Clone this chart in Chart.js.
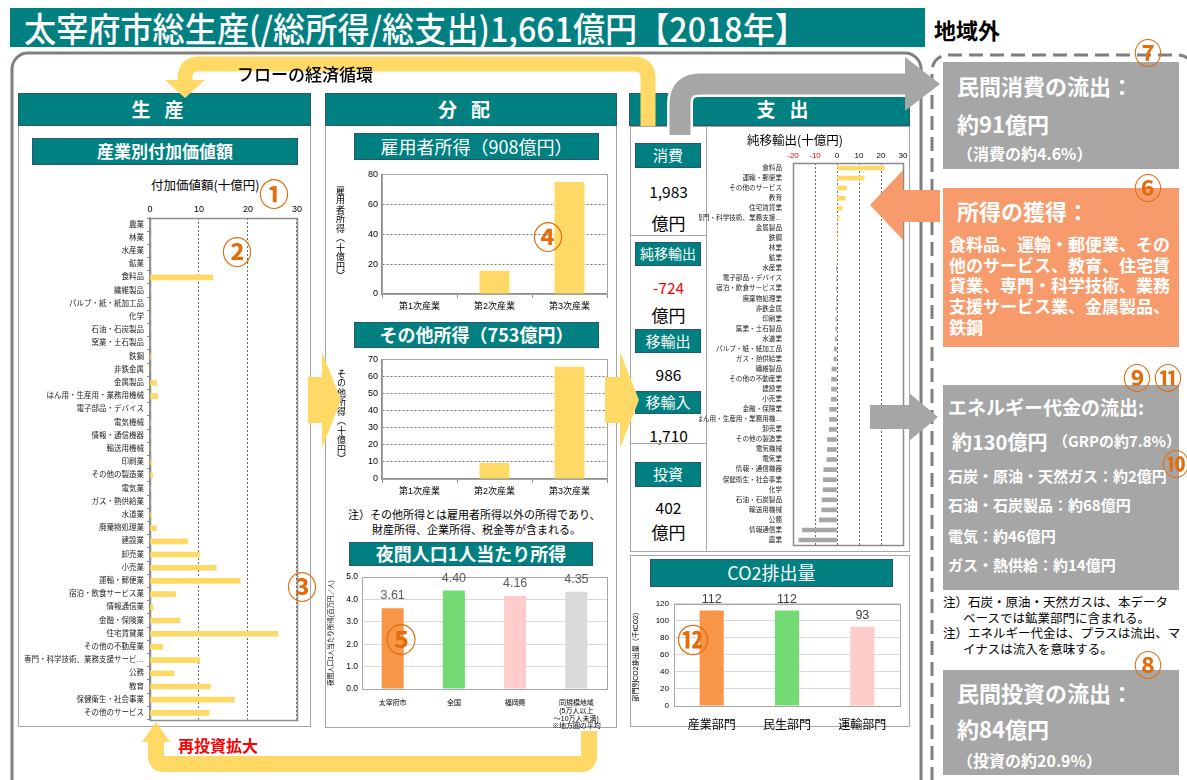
<!DOCTYPE html>
<html><head><meta charset="utf-8">
<script src="https://cdn.jsdelivr.net/npm/chart.js@4"></script>
<style>
body{margin:0;background:#fff;}
#root{position:relative;width:1187px;height:780px;overflow:hidden;background:#fff;font-family:'Noto Sans CJK JP','Noto Sans',sans-serif;}
.a{position:absolute;white-space:nowrap;}
.teal{background:#008080;color:#fff;border:1.5px solid #2A5470;box-sizing:border-box;text-align:center;}
.panel{border:1px solid #A6A6A6;box-sizing:border-box;background:#fff;}
.num{color:#E46C0A;transform:translate(-50%,-50%);line-height:1;z-index:6;font-weight:700;}
.w{color:#fff;font-weight:700;}
canvas{position:absolute;z-index:3;}
.vt{writing-mode:vertical-rl;text-orientation:upright;font-size:9px;color:#000;letter-spacing:0.5px;z-index:4;}
</style></head>
<body><div id="root">

<!-- background frames -->
<svg class="a" style="left:0;top:0;z-index:0" width="1187" height="780">
  <rect x="12" y="53" width="909" height="760" rx="16" ry="16" fill="none" stroke="#7F7F7F" stroke-width="3"/>
  <rect x="932" y="55" width="262" height="760" rx="16" ry="16" fill="none" stroke="#7F7F7F" stroke-width="3" stroke-dasharray="14 7"/>
</svg>

<!-- title -->
<div class="a" style="left:10px;top:8px;width:915px;height:39px;background:#008080;z-index:1"></div>
<div class="a" id="title" style="left:24px;top:8px;height:39px;line-height:39px;font-size:34px;color:#fff;font-weight:500;transform-origin:left center;z-index:2">太宰府市総生産(/総所得/総支出)1,661億円【2018年】</div>
<div class="a" style="left:934px;top:14px;font-size:22px;font-weight:700;line-height:30px;color:#000">地域外</div>
<div class="a" style="left:237px;top:64px;font-size:17px;font-weight:500;line-height:20px;color:#000;z-index:7">フローの経済循環</div>

<!-- panels -->
<div class="a panel" style="left:18px;top:93px;width:293px;height:634px;z-index:1"></div>
<div class="a teal" style="left:18px;top:93px;width:293px;height:33px;line-height:30px;font-size:19px;font-weight:700;letter-spacing:14px;z-index:2">生産</div>
<div class="a panel" style="left:325px;top:93px;width:292px;height:635px;z-index:1"></div>
<div class="a teal" style="left:325px;top:93px;width:292px;height:33px;line-height:30px;font-size:19px;font-weight:700;letter-spacing:14px;z-index:2">分配</div>
<div class="a teal" style="left:629px;top:93px;width:281px;height:33px;line-height:30px;font-size:19px;font-weight:700;letter-spacing:14px;padding-left:40px;z-index:2">支出</div>
<div class="a panel" style="left:630px;top:126px;width:77px;height:426px;z-index:1"></div>
<div class="a panel" style="left:706px;top:126px;width:204px;height:426px;z-index:1"></div>
<div class="a panel" style="left:630px;top:555px;width:280px;height:172px;z-index:1"></div>

<!-- subtitle boxes -->
<div class="a teal" style="left:32px;top:138px;width:266px;height:27px;line-height:24px;font-size:17px;font-weight:700;z-index:2">産業別付加価値額</div>
<div class="a teal" style="left:354px;top:133px;width:245px;height:27px;line-height:24px;font-size:18px;z-index:2">雇用者所得（908億円）</div>
<div class="a teal" style="left:354px;top:322px;width:245px;height:26px;line-height:23px;font-size:18px;font-weight:700;z-index:2">その他所得（753億円）</div>
<div class="a teal" style="left:349px;top:542px;width:244px;height:24px;line-height:21px;font-size:18px;font-weight:700;z-index:2">夜間人口1人当たり所得</div>
<div class="a teal" style="left:650px;top:559px;width:243px;height:28px;line-height:25px;font-size:18px;z-index:2">CO2排出量</div>

<!-- chart titles / notes -->
<div class="a" style="left:151px;top:177px;font-size:12.5px;line-height:16px;color:#000;z-index:4">付加価値額(十億円)</div>
<div class="a" style="left:747px;top:132px;font-size:12.5px;line-height:16px;color:#000;z-index:4">純移輸出(十億円)</div>
<div class="a vt" style="left:334px;top:186px;">雇用者所得（十億円）</div>
<div class="a vt" style="left:335px;top:369px;">その他所得（十億円）</div>
<div class="a" style="left:348px;top:507px;font-size:11px;line-height:15px;color:#000;z-index:4">注）その他所得とは雇用者所得以外の所得であり、<br><span style="padding-left:24px">財産所得、企業所得、税金等が含まれる。</span></div>

<!-- expenditure column -->
<div class="a teal" style="left:635px;top:143px;width:66px;height:25px;line-height:22px;font-size:15px;z-index:2">消費</div>
<div class="a" style="left:630px;top:181px;width:77px;text-align:center;font-size:15.5px;line-height:20px;z-index:2">1,983</div>
<div class="a" style="left:630px;top:212px;width:77px;text-align:center;font-size:17px;line-height:22px;z-index:2">億円</div>
<div class="a" style="left:630px;top:235px;width:77px;border-top:1px solid #A6A6A6;z-index:2"></div>
<div class="a teal" style="left:635px;top:242px;width:66px;height:24px;line-height:21px;font-size:14px;z-index:2">純移輸出</div>
<div class="a" style="left:630px;top:277px;width:77px;text-align:center;font-size:15.5px;line-height:20px;color:#FF0000;z-index:2">-724</div>
<div class="a" style="left:630px;top:304px;width:77px;text-align:center;font-size:17px;line-height:22px;z-index:2">億円</div>
<div class="a teal" style="left:635px;top:329px;width:66px;height:24px;line-height:21px;font-size:15px;z-index:2">移輸出</div>
<div class="a" style="left:630px;top:364px;width:77px;text-align:center;font-size:15.5px;line-height:20px;z-index:2">986</div>
<div class="a teal" style="left:635px;top:391px;width:66px;height:23px;line-height:20px;font-size:15px;z-index:2">移輸入</div>
<div class="a" style="left:630px;top:425px;width:77px;text-align:center;font-size:15.5px;line-height:20px;z-index:2">1,710</div>
<div class="a" style="left:630px;top:443px;width:77px;border-top:1px solid #A6A6A6;z-index:2"></div>
<div class="a teal" style="left:635px;top:462px;width:66px;height:25px;line-height:22px;font-size:15px;z-index:2">投資</div>
<div class="a" style="left:630px;top:497px;width:77px;text-align:center;font-size:15.5px;line-height:20px;z-index:2">402</div>
<div class="a" style="left:630px;top:521px;width:77px;text-align:center;font-size:17px;line-height:22px;z-index:2">億円</div>

<!-- right side boxes -->
<div class="a" style="left:943px;top:62px;width:236px;height:107px;background:#A6A6A6;z-index:1"></div>
<div class="a w" style="left:957px;top:71px;font-size:22px;line-height:28px;z-index:2">民間消費の流出：</div>
<div class="a w" style="left:957px;top:109px;font-size:22px;line-height:28px;z-index:2">約91億円</div>
<div class="a w" style="left:957px;top:142px;font-size:16px;line-height:22px;z-index:2">（消費の約4.6%）</div>

<div class="a" style="left:943px;top:188px;width:236px;height:159px;background:#F89B6C;z-index:1"></div>
<div class="a w" style="left:957px;top:196px;font-size:22px;line-height:28px;z-index:2">所得の獲得：</div>
<div class="a w" style="left:949px;top:234px;font-size:17px;line-height:20.7px;z-index:2">食料品、運輸・郵便業、その<br>他のサービス、教育、住宅賃<br>貸業、専門・科学技術、業務<br>支援サービス業、金属製品、<br>鉄鋼</div>

<div class="a" style="left:943px;top:385px;width:236px;height:205px;background:#A6A6A6;z-index:1"></div>
<div class="a w" style="left:948px;top:394px;font-size:19px;line-height:26px;z-index:2">エネルギー代金の流出:</div>
<div class="a w" style="left:952px;top:429px;font-size:20px;line-height:26px;z-index:2">約130億円</div>
<div class="a w" style="left:1053px;top:430px;font-size:15px;line-height:22px;z-index:2">（GRPの約7.8%）</div>
<div class="a w" style="left:948px;top:465px;font-size:15px;line-height:22px;z-index:2">石炭・原油・天然ガス：約2億円</div>
<div class="a w" style="left:948px;top:494px;font-size:15px;line-height:22px;z-index:2">石油・石炭製品：約68億円</div>
<div class="a w" style="left:948px;top:525px;font-size:15px;line-height:22px;z-index:2">電気：約46億円</div>
<div class="a w" style="left:948px;top:554px;font-size:15px;line-height:22px;z-index:2">ガス・熱供給：約14億円</div>

<div class="a" style="left:943px;top:594px;font-size:12.5px;line-height:15.5px;color:#000;z-index:2">注）石炭・原油・天然ガスは、本データ<br><span style="padding-left:20px">ベースでは鉱業部門に含まれる。</span><br>注）エネルギー代金は、プラスは流出、マ<br><span style="padding-left:20px">イナスは流入を意味する。</span></div>

<div class="a" style="left:943px;top:670px;width:236px;height:105px;background:#A6A6A6;z-index:1"></div>
<div class="a w" style="left:957px;top:678px;font-size:22px;line-height:28px;z-index:2">民間投資の流出：</div>
<div class="a w" style="left:957px;top:714px;font-size:22px;line-height:28px;z-index:2">約84億円</div>
<div class="a w" style="left:957px;top:749px;font-size:16px;line-height:22px;z-index:2">（投資の約20.9%）</div>

<div class="a" style="left:178px;top:735px;font-size:16px;font-weight:700;line-height:20px;color:#FF0000;z-index:7">再投資拡大</div>

<!-- circled numbers -->
<div class="a num" style="left:274px;top:192px;font-size:30px">①</div>
<div class="a num" style="left:237px;top:250px;font-size:30px">②</div>
<div class="a num" style="left:302px;top:585px;font-size:30px">③</div>
<div class="a num" style="left:548px;top:235px;font-size:30px">④</div>
<div class="a num" style="left:401px;top:637px;font-size:31px">⑤</div>
<div class="a num" style="left:1148px;top:187px;font-size:28px">⑥</div>
<div class="a num" style="left:1148px;top:52px;font-size:28px">⑦</div>
<div class="a num" style="left:1148px;top:664px;font-size:28px">⑧</div>
<div class="a num" style="left:1137px;top:377px;font-size:28px">⑨</div>
<div class="a num" style="left:1176px;top:463px;font-size:28px">⑩</div>
<div class="a num" style="left:1168px;top:377px;font-size:28px">⑪</div>
<div class="a num" style="left:693px;top:638px;font-size:32px">⑫</div>

<!-- canvases -->
<canvas id="c1" width="286" height="531" style="left:19px;top:196px"></canvas>
<canvas id="c2" width="213" height="405" style="left:699px;top:147px"></canvas>
<canvas id="c3" width="288" height="150" style="left:327px;top:165px"></canvas>
<canvas id="c4" width="288" height="152" style="left:327px;top:350px"></canvas>
<canvas id="c5" width="288" height="172" style="left:327px;top:568px"></canvas>
<canvas id="c6" width="280" height="144" style="left:632px;top:594px"></canvas>

<!-- arrows on top -->
<svg class="a" style="left:0;top:0;z-index:5;pointer-events:none" width="1187" height="780">
  <path d="M185 82 L185 78 Q185 64 199 64 L634 64 Q648 64 648 78 L648 126" stroke="#FFD966" stroke-width="15" fill="none"/>
  <polygon points="165,80 205,80 185,98" fill="#FFD966"/>
  <path d="M680 135 L680 104 Q680 84 700 84 L908 84" stroke="#fff" stroke-width="26" fill="none"/>
  <path d="M680 135 L680 104 Q680 84 700 84 L908 84" stroke="#A6A6A6" stroke-width="21" fill="none"/>
  <polygon points="905,57 905,111 940,84" fill="#A6A6A6"/>
  <polygon points="308,377 322,377 322,352 341,400 322,448 322,423 308,423" fill="#FFD966"/>
  <polygon points="605,377 620,377 620,352 639,400 620,448 620,423 605,423" fill="#FFD966"/>
  <polygon points="940,190 903,190 903,170 870,205 903,240 903,222 940,222" fill="#F89B6C"/>
  <polygon points="870,405 909,405 909,393 938,417 909,441 909,429 870,429" fill="#A6A6A6"/>
  <path d="M589 731 L589 756 Q589 764 581 764 L164 764 Q156 764 156 756 L156 740" stroke="#FFD966" stroke-width="16" fill="none"/>
  <polygon points="142,742 170,742 156,722" fill="#FFD966"/>
</svg>

<script>
// ---------- data ----------
const industries = ['農業','林業','水産業','鉱業','食料品','繊維製品','パルプ・紙・紙加工品','化学','石油・石炭製品','窯業・土石製品','鉄鋼','非鉄金属','金属製品','はん用・生産用・業務用機械','電子部品・デバイス','電気機械','情報・通信機器','輸送用機械','印刷業','その他の製造業','電気業','ガス・熱供給業','水道業','廃棄物処理業','建設業','卸売業','小売業','運輸・郵便業','宿泊・飲食サービス業','情報通信業','金融・保険業','住宅賃貸業','その他の不動産業','専門・科学技術、業務支援サービス業','公務','教育','保健衛生・社会事業','その他のサービス'];
const valueAdded = [0,0,0,0,12.8,0,0,0,0,0,0.3,0,1.35,1.6,0,0.1,0,0,0.3,0.5,0.1,0,0.3,1.3,7.7,10.1,13.5,18.4,5.2,0.6,6.1,26.1,2.6,10.2,4.9,12.3,17.2,12.1];
const valueAddedTicks = [0,10,20,30];

const netExportIndustries = ['食料品','運輸・郵便業','その他のサービス','教育','住宅賃貸業','専門・科学技術、業務支援サービス業','金属製品','鉄鋼','林業','鉱業','水産業','電子部品・デバイス','宿泊・飲食サービス業','廃棄物処理業','非鉄金属','印刷業','窯業・土石製品','水道業','パルプ・紙・紙加工品','ガス・熱供給業','繊維製品','その他の不動産業','建設業','小売業','金融・保険業','はん用・生産用・業務用機械','卸売業','その他の製造業','電気機械','電気業','情報・通信機器','保健衛生・社会事業','化学','石油・石炭製品','輸送用機械','公務','情報通信業','農業'];
const netExports = [21.5,12.3,4.2,3.8,2.2,0.9,0.2,0.1,0,0,-0.05,-0.3,-0.3,-0.3,-0.4,-0.5,-0.6,-0.8,-1.2,-1.4,-2.3,-2.5,-2.5,-2.6,-3.4,-3.4,-3.5,-4.3,-4.4,-4.6,-6.0,-6.2,-6.3,-6.8,-6.9,-8.0,-15.7,-17.4];
const netExportTicks = [-20,-10,0,10,20,30];

const incomeSectors = ['第1次産業','第2次産業','第3次産業'];
const employeeIncome = [0.3,15.6,75.0];
const employeeTicks = [0,20,40,60,80];
const otherIncome = [0.3,9.3,65.7];
const otherTicks = [0,10,20,30,40,50,60,70];

const perCapitaRegions = [['太宰府市'],['全国'],['福岡県'],['同規模地域','(5万人以上','～10万人未満)','※地方圏の平均']];
const perCapitaIncome = [3.61,4.40,4.16,4.35];
const perCapitaTicks = [0,0.5,1,1.5,2,2.5,3,3.5,4,4.5,5];

const co2Sectors = ['産業部門','民生部門','運輸部門'];
const co2Emissions = [112,112,93];
const co2Ticks = [0,20,40,60,80,100,120];

// ---------- styles ----------
const YELLOW = '#FFD966', GRAY = '#A6A6A6';
const PALETTE4 = ['#F79646','#74DB74','#FFCCCC','#D9D9D9'];
const PALETTE3 = ['#F79646','#74DB74','#FFCCCC'];

// title fit
(function(){const t=document.getElementById('title');const w=t.getBoundingClientRect().width;t.style.transform='scaleX('+(783/w)+')';})();

Chart.defaults.font.family = "'Liberation Sans','Noto Sans CJK JP',sans-serif";
Chart.defaults.color = '#000';
Chart.defaults.animation = false;
Chart.defaults.responsive = false;
Chart.defaults.devicePixelRatio = 1;
Chart.defaults.plugins.legend.display = false;
Chart.defaults.plugins.tooltip.enabled = false;

const framePlugin = {
  id:'frame',
  beforeDatasetsDraw(chart, args, opts){
    if(!opts.color) return;
    const a = chart.chartArea, c = chart.ctx;
    c.save(); c.strokeStyle = opts.color; c.lineWidth = opts.width || 1;
    c.strokeRect(Math.round(a.left)+0.5, Math.round(a.top)+0.5, Math.round(a.right-a.left), Math.round(a.bottom-a.top));
    c.restore();
  }
};
const labelPlugin = {
  id:'vlabels',
  afterDatasetsDraw(chart, args, opts){
    if(!opts.show) return;
    const c = chart.ctx;
    c.save(); c.font = opts.size + "px 'Liberation Sans','Noto Sans CJK JP',sans-serif";
    c.fillStyle = opts.color; c.textAlign='center'; c.textBaseline='bottom';
    const ds = chart.data.datasets[0];
    chart.getDatasetMeta(0).data.forEach((b,i)=>{ c.fillText(ds.data[i].toFixed(opts.decimals), b.x, b.y - opts.offset); });
    c.restore();
  }
};
Chart.register(framePlugin, labelPlugin);

function trunc(s,n){ return s.length>n ? s.slice(0,n)+'…' : s; }
function fixedTicks(arr){ return function(scale){ scale.ticks = arr.map(v=>({value:v})); }; }

// chart 1 : value added by industry
new Chart(document.getElementById('c1'), {
  type:'bar',
  data:{labels:industries, datasets:[{data:valueAdded, backgroundColor:YELLOW, barThickness:5}]},
  options:{
    indexAxis:'y',
    layout:{padding:{left:0,right:7,top:0,bottom:5}},
    plugins:{frame:{color:'#8C8C8C', width:1.5}},
    scales:{
      x:{position:'top', min:valueAddedTicks[0], max:valueAddedTicks[valueAddedTicks.length-1], afterBuildTicks:fixedTicks(valueAddedTicks),
         ticks:{font:{size:9}, padding:3}, grid:{color:'#666', drawTicks:false}, border:{display:false, dash:[2,2]},
         afterFit(s){ s.height = 22; }},
      y:{ticks:{font:{size:7.5}, color:'#222', autoSkip:false, padding:3, callback(v){ return trunc(this.getLabelForValue(v),15); }},
         grid:{drawOnChartArea:false, tickLength:3, color:'#8C8C8C'}, border:{display:true, color:'#8C8C8C', width:1.5},
         afterFit(s){ s.width = 131; }}
    }
  }
});

// chart 2 : net exports
new Chart(document.getElementById('c2'), {
  type:'bar',
  data:{labels:netExportIndustries, datasets:[{data:netExports, backgroundColor:netExports.map(v=>v>=0?YELLOW:GRAY), barThickness:4}]},
  options:{
    indexAxis:'y',
    layout:{padding:{left:0,right:9,top:0,bottom:3}},
    plugins:{frame:{color:'#8C8C8C', width:1.5}},
    scales:{
      x:{position:'top', min:netExportTicks[0], max:netExportTicks[netExportTicks.length-1], afterBuildTicks:fixedTicks(netExportTicks),
         ticks:{font:{size:8}, padding:2, color:c=>c.tick && c.tick.value<0 ? '#FF0000' : '#000'},
         grid:{color:'#666', drawTicks:false}, border:{display:false, dash:[2,2]},
         afterFit(s){ s.height = 16; }},
      y:{ticks:{font:{size:6.6}, color:'#222', autoSkip:false, padding:3, callback(v){ return trunc(this.getLabelForValue(v),12); }},
         grid:{display:false}, border:{display:false},
         afterFit(s){ s.width = 94; }}
    }
  }
});

function incomeChart(id, data, ticks, yTop, xH){
  return new Chart(document.getElementById(id), {
    type:'bar',
    data:{labels:incomeSectors, datasets:[{data:data, backgroundColor:YELLOW, barPercentage:0.4, categoryPercentage:1}]},
    options:{
      layout:{padding:{left:0,right:8,top:yTop,bottom:0}},
      plugins:{frame:{color:'#A6A6A6', width:1}},
      scales:{
        x:{ticks:{font:{size:9}, padding:3}, grid:{offset:true, drawOnChartArea:false, tickLength:4, color:'#8C8C8C'}, border:{color:'#8C8C8C', width:1.5}, afterFit(s){ s.height = xH; }},
        y:{min:ticks[0], max:ticks[ticks.length-1], afterBuildTicks:fixedTicks(ticks), ticks:{font:{size:9}, padding:4},
           grid:{color:'#777', drawTicks:false}, border:{display:true, color:'#8C8C8C', width:1.5, dash:[2,2]}, afterFit(s){ s.width = 55; }}
      }
    }
  });
}
incomeChart('c3', employeeIncome, employeeTicks, 7, 21);
incomeChart('c4', otherIncome, otherTicks, 7, 23);

// chart 5 : per-capita income
new Chart(document.getElementById('c5'), {
  type:'bar',
  data:{labels:perCapitaRegions, datasets:[{data:perCapitaIncome, backgroundColor:PALETTE4, barPercentage:0.36, categoryPercentage:1}]},
  options:{
    layout:{padding:{left:0,right:8,top:9,bottom:0}},
    plugins:{frame:{color:'#A6A6A6', width:1}, vlabels:{show:true, size:12.5, color:'#595959', decimals:2, offset:6}},
    scales:{
      x:{ticks:{font:{size:7, lineHeight:1.12}, padding:2, maxRotation:0}, grid:{display:false}, border:{color:'#A6A6A6'}, afterFit(s){ s.height = 51; }},
      y:{min:perCapitaTicks[0], max:perCapitaTicks[perCapitaTicks.length-1], afterBuildTicks:fixedTicks(perCapitaTicks),
         ticks:{font:{size:8.5}, padding:4, callback:v=>Number(v).toFixed(1)},
         grid:{color:'#D9D9D9', drawTicks:false}, border:{display:false},
         title:{display:true, text:'夜間人口1人当たり所得(百万円／人)', font:{size:6.5}, padding:{top:0,bottom:1}},
         afterFit(s){ s.width = 35; }}
    }
  }
});

// chart 6 : CO2
new Chart(document.getElementById('c6'), {
  type:'bar',
  data:{labels:co2Sectors, datasets:[{data:co2Emissions, backgroundColor:PALETTE3, barPercentage:0.32, categoryPercentage:1}]},
  options:{
    layout:{padding:{left:0,right:12,top:8,bottom:0}},
    plugins:{frame:{color:'#A6A6A6', width:1}, vlabels:{show:true, size:12.5, color:'#404040', decimals:0, offset:5}},
    scales:{
      x:{ticks:{font:{size:12}, padding:4}, grid:{display:false}, border:{color:'#A6A6A6'}, afterFit(s){ s.height = 32; }},
      y:{min:co2Ticks[0], max:co2Ticks[co2Ticks.length-1], afterBuildTicks:fixedTicks(co2Ticks),
         ticks:{font:{size:8}, padding:5},
         grid:{color:'#D9D9D9', drawTicks:false}, border:{display:false},
         title:{display:true, text:'部門別CO2排出量（千tCO2）', font:{size:7}, padding:{top:0,bottom:2}},
         afterFit(s){ s.width = 42; }}
    }
  }
});
</script>
</div></body></html>
